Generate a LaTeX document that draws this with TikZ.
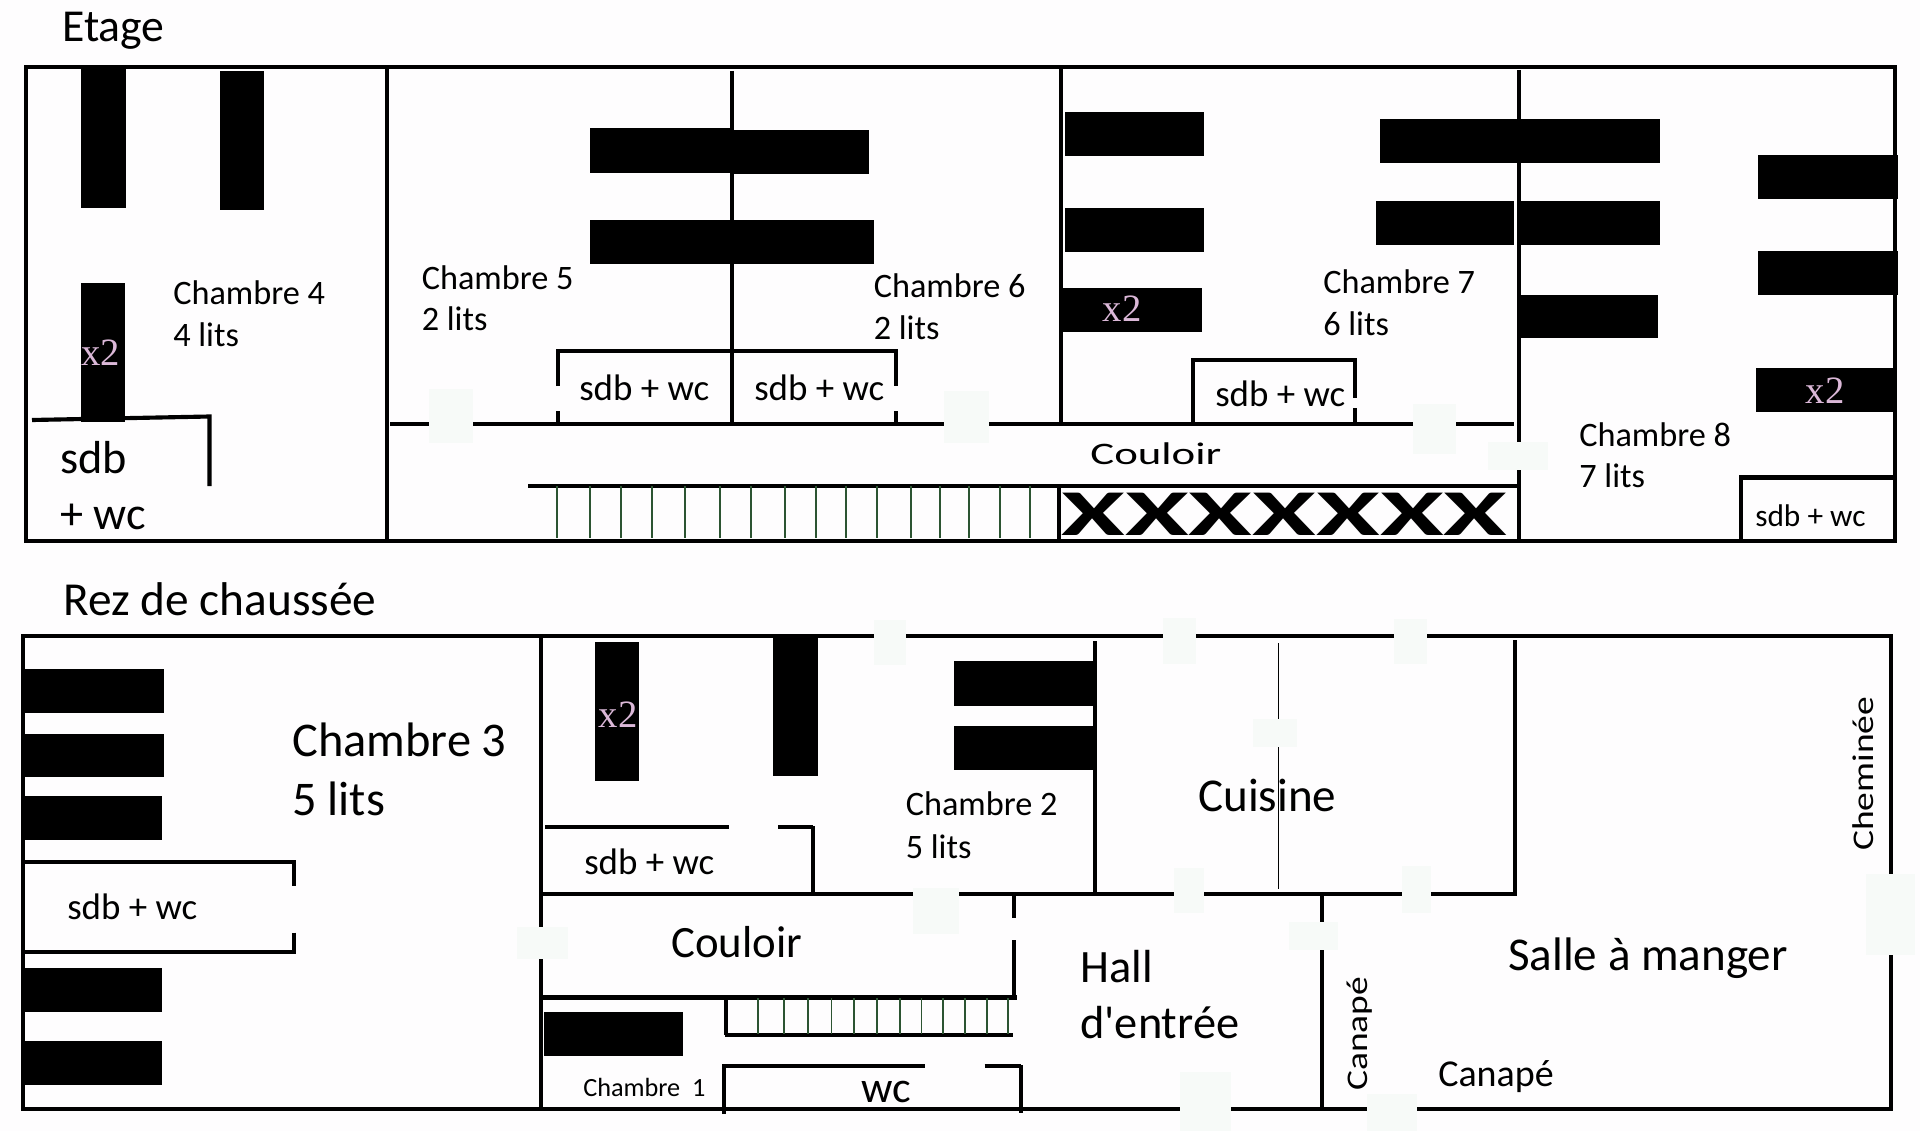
\documentclass[tikz,border=0pt]{standalone}
\usepackage{fontspec}
\setmainfont{Carlito}
\newfontfamily\bedfont{Liberation Serif}
\usepackage{tikz}

\begin{document}
\begin{tikzpicture}[x=0.75pt,y=0.75pt,yscale=-1,xscale=1,
  wall/.style={line width=3.1pt},
  thinwall/.style={line width=2.8pt},
  hairwall/.style={line width=1.3pt},
  bed/.style={draw=none,fill=black},
  doorpatch/.style={draw=none,fill={rgb, 255:red, 247; green, 250; blue, 248 }},
  rung/.style={color={rgb, 255:red, 44; green, 84; blue, 50 },line width=1.2pt},
  txt/.style={anchor=base west,inner sep=0pt,font=\fontsize{#1}{#1}\selectfont},
  xtwo/.style={inner sep=0pt,text={rgb, 255:red, 219; green, 184; blue, 216 },font=\bedfont\fontsize{29}{29}\selectfont}]
\useasboundingbox (0,0) rectangle (1920,1131);
\fill [color={rgb, 255:red, 254; green, 253; blue, 254 }] (0,0) rectangle (1920,1131);

%Etage: beds
\draw [bed] (81,67) rectangle (125.5,208) ;
\draw [bed] (220,71) rectangle (264,210) ;
\draw [bed] (81,283) rectangle (125,422) ;
\draw [bed] (590,128) rectangle (730,172.5) ;
\draw [bed] (732,130) rectangle (869,174) ;
\draw [bed] (590,220) rectangle (730,264) ;
\draw [bed] (732,220) rectangle (874,264) ;
\draw [bed] (1065,112) rectangle (1204,156) ;
\draw [bed] (1065,207.5) rectangle (1204,252) ;
\draw [bed] (1061,287.5) rectangle (1202,331.5) ;
\draw [bed] (1380,118.5) rectangle (1518.5,162.5) ;
\draw [bed] (1521,118.5) rectangle (1660,163) ;
\draw [bed] (1376,200.7) rectangle (1514,244.6) ;
\draw [bed] (1521,201) rectangle (1660,245) ;
\draw [bed] (1521,295) rectangle (1658,338) ;
\draw [bed] (1758,155) rectangle (1897.5,199) ;
\draw [bed] (1758,251) rectangle (1897.5,295) ;
\draw [bed] (1756,367.5) rectangle (1894,411.5) ;

%Etage: outer walls and rooms
\draw [wall] (26,67) rectangle (1895,541) ;
\draw [thinwall] (387,67) -- (387,541) ;
\draw [thinwall] (732,71) -- (732,424) ;
\draw [thinwall] (1061,67) -- (1061,424) ;
\draw [thinwall] (1059,486) -- (1059,541) ;
\draw [thinwall] (1519,70) -- (1519,541) ;
%Etage: corridor
\draw [wall] (390,424) -- (1514,424) ;
\draw [wall] (528,486) -- (1519,486) ;
%Etage: bathrooms
\draw [wall] (32,420) -- (209.5,416.5) -- (209.5,486) ;
\draw [wall] (558,386) -- (558,351) -- (896,351) -- (896,386) ;
\draw [thinwall] (558,411) -- (558,424) ;
\draw [thinwall] (896,411) -- (896,424) ;
\draw [wall] (1193,424) -- (1193,360) -- (1355,360) -- (1355,398) ;
\draw [thinwall] (1355,408) -- (1355,424) ;
\draw [wall] (1741,541) -- (1741,477.5) -- (1895,477.5) ;

%Etage: stairs
\draw [rung] (557,486) -- (557,538) ;
\draw [rung] (590,486) -- (590,538) ;
\draw [rung] (621,486) -- (621,538) ;
\draw [rung] (652,486) -- (652,538) ;
\draw [rung] (685,486) -- (685,538) ;
\draw [rung] (720,486) -- (720,538) ;
\draw [rung] (751,486) -- (751,538) ;
\draw [rung] (785,486) -- (785,538) ;
\draw [rung] (816,486) -- (816,538) ;
\draw [rung] (846,486) -- (846,538) ;
\draw [rung] (877,486) -- (877,538) ;
\draw [rung] (911,486) -- (911,538) ;
\draw [rung] (940,486) -- (940,538) ;
\draw [rung] (969,486) -- (969,538) ;
\draw [rung] (1000,486) -- (1000,538) ;
\draw [rung] (1030,486) -- (1030,538) ;

%Etage: door patches
\draw [doorpatch] (429,389) rectangle (473,443) ;
\draw [doorpatch] (944,391) rectangle (989,443) ;
\draw [doorpatch] (1413,404) rectangle (1456,454) ;
\draw [doorpatch] (1488,442) rectangle (1548,470) ;

%Rez de chaussee: beds
\draw [bed] (23,669) rectangle (164,713) ;
\draw [bed] (23,733.6) rectangle (164,777) ;
\draw [bed] (23,796) rectangle (162,840) ;
\draw [bed] (23,968) rectangle (162,1012) ;
\draw [bed] (23,1041) rectangle (162,1085) ;
\draw [bed] (594.6,642) rectangle (639,781.4) ;
\draw [bed] (773,636) rectangle (817.5,776) ;
\draw [bed] (954,661.4) rectangle (1094,705.7) ;
\draw [bed] (954,725.7) rectangle (1094,770) ;
\draw [bed] (544,1012) rectangle (683,1056) ;

%Rez de chaussee: outer walls and rooms
\draw [wall] (23,636.4) rectangle (1891,1109) ;
\draw [thinwall] (541,636) -- (541,1109) ;
\draw [wall] (1094.7,641) -- (1094.7,894) ;
\draw [hairwall] (1278.4,643) -- (1278.4,889) ;
\draw [thinwall] (1515,640) -- (1515,894) ;
\draw [wall] (541,894) -- (1517,894) ;
\draw [thinwall] (1322,894) -- (1322,1109) ;
%Rez de chaussee: corridor
\draw [thinwall] (1014,894) -- (1014,918) ;
\draw [thinwall] (1014,940) -- (1014,999) ;
\draw [wall] (541,997.5) -- (1017,997.5) ;
%Rez de chaussee: bathrooms
\draw [wall] (23,862) -- (294,862) -- (294,886) ;
\draw [wall] (294,932.5) -- (294,952) -- (23,952) ;
\draw [wall] (545,827) -- (729,827) ;
\draw [wall] (778,827) -- (813,827) ;
\draw [thinwall] (813,826) -- (813,894) ;
\draw [wall] (724,1114) -- (724,1066) -- (925,1066) ;
\draw [wall] (984.5,1066) -- (1021,1066) ;
\draw [thinwall] (1021,1065) -- (1021,1113) ;

%Rez de chaussee: stairs
\draw [thinwall] (726,997) -- (726,1035) ;
\draw [wall] (724.5,1035) -- (1013,1035) ;
\draw [rung] (758,998) -- (758,1034) ;
\draw [rung] (784,998) -- (784,1034) ;
\draw [rung] (808,998) -- (808,1034) ;
\draw [rung] (831.5,998) -- (831.5,1034) ;
\draw [rung] (854,998) -- (854,1034) ;
\draw [rung] (877,998) -- (877,1034) ;
\draw [rung] (900,998) -- (900,1034) ;
\draw [rung] (921.6,998) -- (921.6,1034) ;
\draw [rung] (943,998) -- (943,1034) ;
\draw [rung] (965,998) -- (965,1034) ;
\draw [rung] (987,998) -- (987,1034) ;
\draw [rung] (1008,998) -- (1008,1034) ;

%Rez de chaussee: door patches
\draw [doorpatch] (517,927) rectangle (568,959) ;
\draw [doorpatch] (874,620) rectangle (906,665) ;
\draw [doorpatch] (913,888) rectangle (959,934) ;
\draw [doorpatch] (1163,618) rectangle (1196,664) ;
\draw [doorpatch] (1393.5,619) rectangle (1426.6,664) ;
\draw [doorpatch] (1174,868) rectangle (1204,913) ;
\draw [doorpatch] (1402,866) rectangle (1431,913) ;
\draw [doorpatch] (1253,719) rectangle (1297,747) ;
\draw [doorpatch] (1289,922) rectangle (1338,950) ;
\draw [doorpatch] (1866,873.6) rectangle (1915,955) ;
\draw [doorpatch] (1180,1072) rectangle (1231,1131) ;
\draw [doorpatch] (1367,1094) rectangle (1417,1131) ;

% Text Node
\node [txt=34.3] (etage) at (62,42) {Etage};
\node [xtwo] (xtwoa) at (100.5,353) {x2};
\node [txt=25.7] (ch4) at (173,304.5) {Chambre 4};
\node [txt=25.7] (ch4lits) at (173,346) {4 lits};
\node [txt=25.7] (ch5) at (421.5,289) {Chambre 5};
\node [txt=25.7] (ch5lits) at (421.5,330.6) {2 lits};
\node [txt=25.7] (ch6) at (873.5,297.7) {Chambre 6};
\node [txt=25.7] (ch6lits) at (873.5,339.5) {2 lits};
\node [txt=25.7] (ch7) at (1323,293) {Chambre 7};
\node [txt=25.7] (ch7lits) at (1323,335) {6 lits};
\node [txt=25.7] (ch8) at (1579,446) {Chambre 8};
\node [txt=25.7] (ch8lits) at (1579,487.7) {7 lits};
\node [xtwo] (xtwob) at (1122,309) {x2};
\node [xtwo] (xtwoc) at (1825,391) {x2};
\node [txt=34.7] (sdbbig) at (60,473) {sdb};
\node [txt=34.7] (wcbig) at (60,529) {+ wc};
\node [txt=27.7] (sdba) at (579,400) {sdb + wc};
\node [txt=27.7] (sdbb) at (754,400) {sdb + wc};
\node [txt=27.7] (sdbc) at (1215,406) {sdb + wc};
\node [txt=23.5] (sdbd) at (1755,526) {sdb + wc};
\node [txt=23.5,xscale=1.43] (couloirhaut) at (1090,464) {Couloir};
\node [txt=49,xscale=1.77] (crosses) at (1061,535) {\bfseries XXXXXXX};

% Text Node
\node [txt=35.5] (rdc) at (63,615) {Rez de chaussée};
\node [txt=36.3] (ch3) at (292,756) {Chambre 3};
\node [txt=36.3] (ch3lits) at (292,815.6) {5 lits};
\node [txt=27.7] (sdbe) at (67,919) {sdb + wc};
\node [txt=27.7] (sdbf) at (584,874) {sdb + wc};
\node [xtwo] (xtwod) at (618,714.5) {x2};
\node [txt=25.7] (ch2) at (905.5,815.6) {Chambre 2};
\node [txt=25.7] (ch2lits) at (905.5,858) {5 lits};
\node [txt=33.6] (couloirbas) at (671,957) {Couloir};
\node [txt=19.7] (ch1) at (583,1096) {Chambre\ \ 1};
\node [txt=33] (wc) at (861,1102) {wc};
\node [txt=35.3] (cuisine) at (1198,811) {Cuisine};
\node [txt=34.8] (hall) at (1080,982) {Hall};
\node [txt=34.8] (entree) at (1080,1038) {d\textquotesingle entrée};
\node [txt=35.3] (salle) at (1508,970) {Salle à manger};
\node [txt=28.5] (canape) at (1438,1086) {Canapé};
\node [txt=22.5,rotate=90,xscale=1.25] (canapev) at (1367,1091) {Canapé};
\node [txt=22.5,rotate=90,xscale=1.25] (cheminee) at (1873.6,851) {Cheminée};

\end{tikzpicture}
\end{document}
